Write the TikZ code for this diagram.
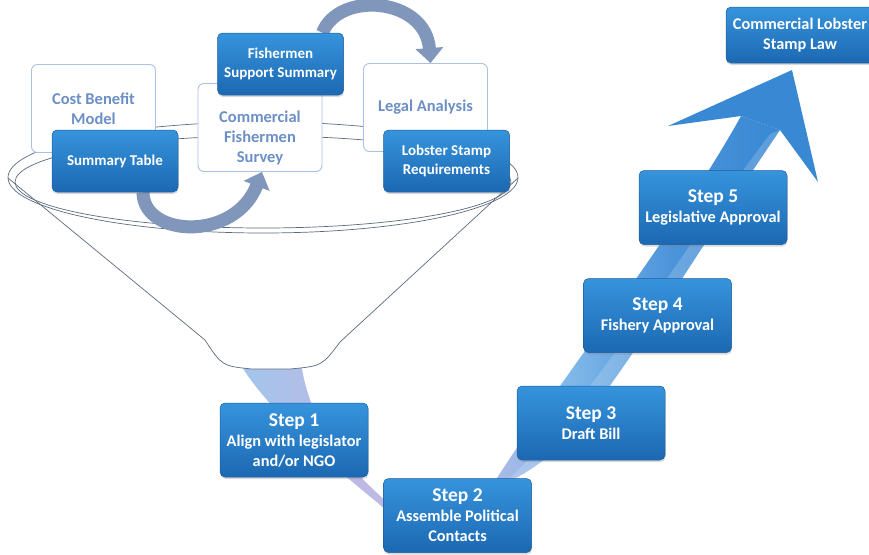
\documentclass[tikz,border=0pt]{standalone}
\usepackage{fontspec}
\setmainfont{Carlito}
\usetikzlibrary{arrows.meta,shadows,backgrounds}

\definecolor{bleuhaut}{RGB}{54,148,220}
\definecolor{bleubas}{RGB}{28,104,178}
\definecolor{bleubord}{RGB}{30,92,158}
\definecolor{cadre}{RGB}{168,194,228}
\definecolor{texteclair}{RGB}{108,144,198}
\definecolor{entonnoir}{RGB}{92,106,126}
\definecolor{gris}{RGB}{128,150,186}
\definecolor{rubanA}{RGB}{160,198,236}
\definecolor{rubanB}{RGB}{190,184,228}
\definecolor{rubanC}{RGB}{132,186,234}
\definecolor{rubanD}{RGB}{76,148,218}
\definecolor{rubanE}{RGB}{56,136,211}

\pgfdeclarehorizontalshading{ruban}{100bp}{color(0bp)=(rubanA); color(25bp)=(rubanA);
  color(36bp)=(rubanB); color(46bp)=(rubanB); color(55bp)=(rubanC);
  color(65bp)=(rubanD); color(75bp)=(rubanE); color(100bp)=(rubanE)}

\newcommand{\etapenum}[1]{{\fontsize{19.5}{21}\selectfont Step #1}}

\begin{document}
\begin{tikzpicture}[x=1pt,y=-1pt]
 % definition des styles
  \tikzstyle{bleu}=[rectangle,rounded corners=5pt,draw=bleubord,line width=0.5pt,
    top color=bleuhaut,bottom color=bleubas,text=white,align=center,
    font=\bfseries\fontsize{15}{18.5}\selectfont,
    drop shadow={opacity=0.3,shadow xshift=0.5pt,shadow yshift=-2pt},
    minimum width=126pt,minimum height=62pt,inner sep=2pt]
  \tikzstyle{etape}=[bleu,font=\bfseries\fontsize{16.3}{20}\selectfont,
    minimum width=148pt,minimum height=74pt]
  \tikzstyle{clair}=[text=texteclair,align=center,font=\bfseries\fontsize{16.5}{20}\selectfont]
  \tikzstyle{blanc}=[clair,rectangle,rounded corners=6pt,draw=cadre,line width=0.9pt,
    fill=white,minimum width=124pt,minimum height=88pt]
  \tikzstyle{fleche}=[gris,line width=13pt,-{Triangle[width=27pt,length=15pt]}]
  \tikzstyle{bord}=[entonnoir,line width=0.7pt]
  \useasboundingbox (0,0) rectangle (869,554);
  \clip (0,0) rectangle (869,554);
 % les noeuds de l'entonnoir
  \node[blanc] (cout) at (93.5,108.5) {Cost Benefit\\Model};
  \node[bleu] (tableau) at (115,161) {Summary Table};
  \node[blanc] (sondage) at (260,127.5) {};
  \node[clair] (sondagetxt) at (260,138.5) {Commercial\\Fishermen\\Survey};
  \node[bleu] (soutien) at (280.5,64) {Fishermen\\Support Summary};
  \node[blanc] (juridique) at (425.5,107.5) {Legal Analysis};
  \node[bleu] (exigences) at (446.5,161) {Lobster Stamp\\Requirements};
 % les etapes
  \node[etape] (e1) at (294,440) {\etapenum{1}\\Align with legislator\\and/or NGO};
  \node[etape] (e2) at (457.5,515.5) {\etapenum{2}\\Assemble Political\\Contacts};
  \node[etape] (e3) at (591,423) {\etapenum{3}\\Draft Bill};
  \node[etape] (e4) at (657.5,315.5) {\etapenum{4}\\Fishery Approval};
  \node[etape] (e5) at (713,207.5) {\etapenum{5}\\Legislative Approval};
  \node[etape,minimum height=56pt] (loi) at (800,35) {Commercial Lobster\\Stamp Law};
 % derriere les noeuds
  \begin{scope}[on background layer]
   % le ruban et la pointe
    \shade[shading=ruban] (236,355) .. controls (248,385) and (300,440) .. (378,503)
      .. controls (410,535) and (470,545) .. (497,478)
      .. controls (560,380) and (678,230) .. (741,116) -- (780,130)
      .. controls (702,245) and (645,340) .. (592,410)
      .. controls (562,450) and (532,470) .. (512,480)
      .. controls (470,530) and (420,525) .. (388,503)
      .. controls (340,460) and (307,420) .. (300,355) -- cycle;
    \fill[white,opacity=0.18] (770,134) .. controls (690,240) and (632,335) .. (577,402)
      .. controls (550,437) and (527,462) .. (510,478) -- (512,480)
      .. controls (532,470) and (562,450) .. (592,410)
      .. controls (645,340) and (702,245) .. (780,130) -- cycle;
    \fill[rubanE] (741,116) -- (668,126) -- (792,70) -- (818,182) -- (780,130) -- cycle;
   % l'entonnoir
    \filldraw[bord,fill=white] (8,178) -- (205,340) .. controls (222,366) .. (252,369)
      -- (290,369) .. controls (322,366) .. (340,342) -- (518,178);
    \draw[bord] (263,177.5) ellipse [x radius=255,y radius=55.5];
    \draw[bord] (263,182) ellipse [x radius=248,y radius=46];
   % les fleches
    \draw[fleche] ([xshift=28pt]tableau.south) .. controls +(0,45) and +(-27,70) .. ([xshift=2pt]sondage.south);
    \draw[fleche] ([xshift=42pt]soutien.north) .. controls +(16,-42) and +(-5,-66) .. ([xshift=5pt]juridique.north);
  \end{scope}
\end{tikzpicture}
\end{document}
